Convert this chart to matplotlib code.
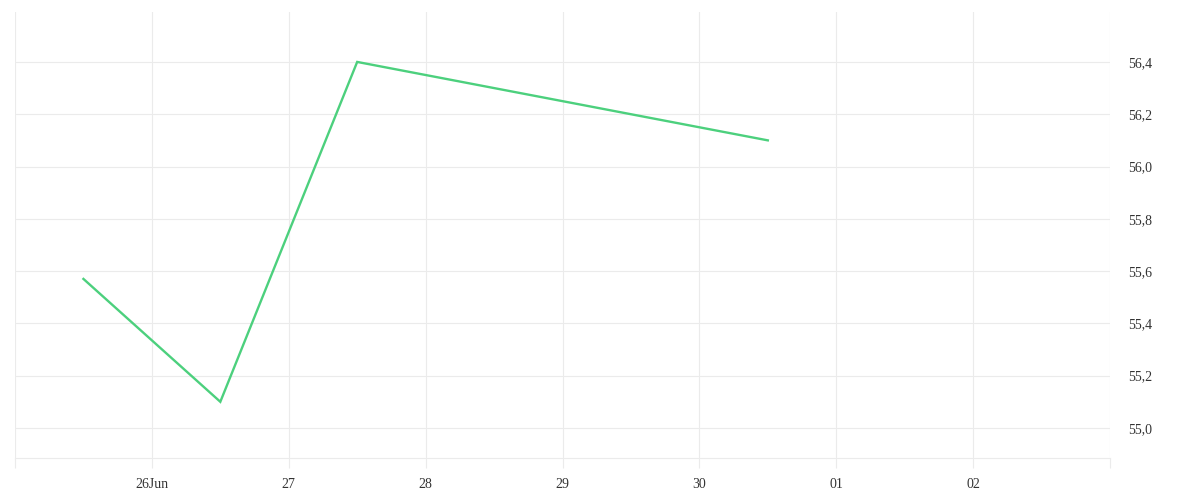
import matplotlib
matplotlib.use("Agg")
import matplotlib.pyplot as plt
import matplotlib.dates as mdates
import numpy as np
from datetime import datetime

# Data
dates = ["2025-06-25 12:00", "2025-06-26 12:00", "2025-06-27 12:00", "2025-06-30 12:00"]
values = [55.57, 55.10, 56.40, 56.10]
tick_dates = ["2025-06-25", "2025-06-26", "2025-06-27", "2025-06-28", "2025-06-29",
              "2025-06-30", "2025-07-01", "2025-07-02", "2025-07-03"]
tick_labels = ["", "26Jun", "27", "28", "29", "30", "01", "02", ""]
y_ticks = [55.0, 55.2, 55.4, 55.6, 55.8, 56.0, 56.2, 56.4]

x = [datetime.strptime(d, "%Y-%m-%d %H:%M") for d in dates]
xt = [datetime.strptime(d, "%Y-%m-%d") for d in tick_dates]

plt.rcParams['font.family'] = ['Liberation Serif', 'DejaVu Serif']
fig = plt.figure(figsize=(12, 5), dpi=100)
ax = fig.add_axes([0.0125, 0.084, 0.9125, 0.892])

ax.plot(x, values, color="#4cd07d", linewidth=1.7, solid_joinstyle="miter")

ax.set_xlim(xt[0], xt[-1])
ax.set_ylim(54.885, 56.591)
ax.set_xticks(xt)
ax.set_xticklabels(tick_labels)
ax.set_yticks(y_ticks)
ax.set_yticklabels([f"{v:.1f}".replace(".", ",") for v in y_ticks])

ax.yaxis.tick_right()
ax.grid(True, color="#ebebeb", linewidth=0.8)
ax.set_axisbelow(True)
for s in ["top", "left", "right"]:
    ax.spines[s].set_visible(False)
ax.spines["bottom"].set_color("#ebebeb")
ax.spines["bottom"].set_linewidth(0.8)

ax.tick_params(axis="x", length=7.5, width=0.8, color="#ebebeb", pad=7,
               labelsize=10, labelcolor="#333333")
ax.tick_params(axis="y", length=0, pad=13, labelsize=10, labelcolor="#333333")

fig.savefig("out.png", dpi=100, facecolor="white")
